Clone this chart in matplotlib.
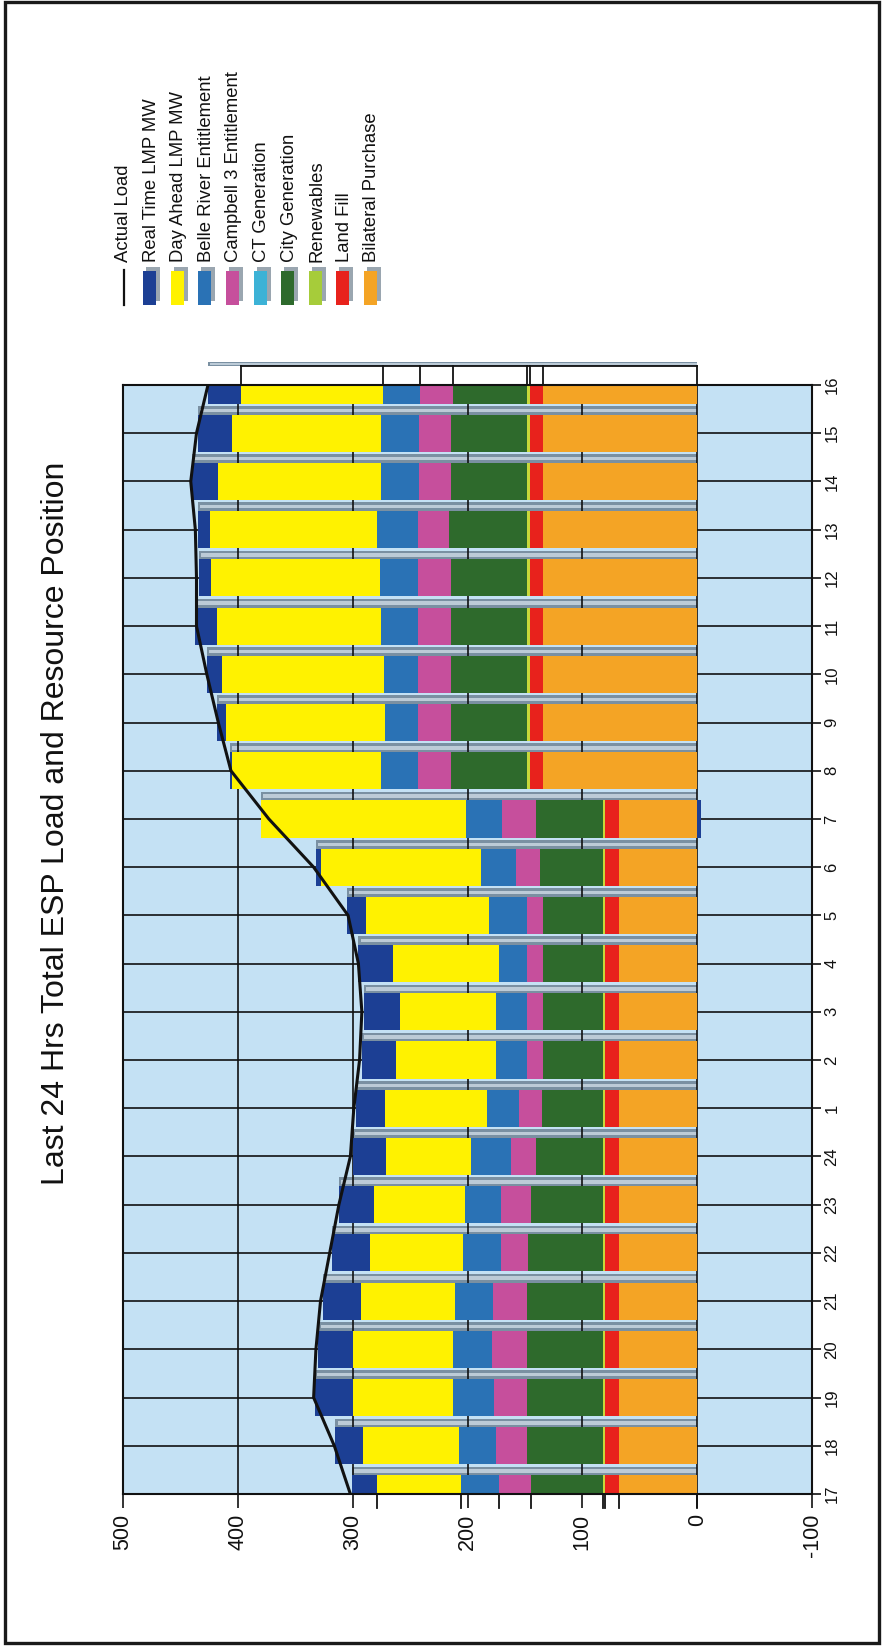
import matplotlib
matplotlib.use("Agg")
import matplotlib.pyplot as plt
from matplotlib import font_manager
from matplotlib.patches import Rectangle
from matplotlib.lines import Line2D
import numpy as np

# ---------------------------------------------------------------- data
hours = [17, 18, 19, 20, 21, 22, 23, 24, 1, 2, 3, 4, 5, 6, 7,
         8, 9, 10, 11, 12, 13, 14, 15, 16]

actual_load = [302, 316, 334, 332, 328, 320, 312, 302, 299, 294, 292, 295, 304, 334, 373,
               406, 417, 427, 436, 436, 437, 441, 436, 426]

bilateral_purchase = [68, 68, 68, 68, 68, 68, 68, 68, 68, 68, 68, 68, 68, 68, 68,
                      134, 134, 134, 134, 134, 134, 134, 134, 134]
land_fill = [12, 12, 12, 12, 12, 12, 12, 12, 12, 12, 12, 12, 12, 12, 12,
             12, 12, 12, 12, 12, 12, 12, 12, 12]
renewables = [2, 2, 2, 2, 2, 2, 2, 2, 2, 2, 2, 2, 2, 2, 2,
              2, 2, 2, 2, 2, 2, 2, 2, 2]
city_generation = [63, 66, 66, 66, 66, 65, 63, 58, 53, 52, 52, 52, 52, 55, 58,
                   66, 66, 66, 66, 66, 68, 66, 66, 65]
ct_generation = [0, 0, 0, 0, 0, 0, 0, 0, 0, 0, 0, 0, 0, 0, 0,
                 0, 0, 0, 0, 0, 0, 0, 0, 0]
campbell3 = [28, 27, 29, 31, 30, 24, 26, 22, 20, 14, 14, 14, 14, 21, 30,
             29, 29, 29, 29, 29, 27, 28, 28, 28]
belle_river = [33, 32, 36, 34, 33, 33, 31, 35, 28, 27, 27, 25, 33, 30, 31,
               32, 29, 30, 32, 33, 36, 33, 33, 33]
day_ahead = [73, 84, 87, 87, 82, 81, 79, 74, 89, 87, 84, 92, 107, 140, 179,
             130, 138, 141, 143, 147, 145, 142, 130, 123]
real_time = [22, 24, 33, 30, 33, 33, 31, 29, 25, 30, 31, 30, 17, 4, -3,
             2, 8, 13, 19, 11, 11, 23, 30, 29]

legend_labels = ["Actual Load", "Real Time LMP MW", "Day Ahead LMP MW",
                 "Belle River Entitlement", "Campbell 3 Entitlement", "CT Generation",
                 "City Generation", "Renewables", "Land Fill", "Bilateral Purchase"]
value_ticks = [500, 400, 300, 200, 100, 0, -100]
title = "Last 24 Hrs Total ESP Load and Resource Position"

# stacking order, from the base outward, with colours
stack = [
    (bilateral_purchase, "#f4a425"),
    (land_fill, "#e8221c"),
    (renewables, "#c8d83a"),
    (city_generation, "#2e6a2c"),
    (ct_generation, "#3cb2d6"),
    (campbell3, "#c64f9c"),
    (belle_river, "#2a72b5"),
    (day_ahead, "#fff200"),
    (real_time, "#1c3f94"),
]
legend_colors = ["#1c3f94", "#fff200", "#2a72b5", "#c64f9c", "#3cb2d6",
                 "#2e6a2c", "#a6cc3a", "#e8221c", "#f4a425"]

# ---------------------------------------------------------------- fonts
names = {f.name for f in font_manager.fontManager.ttflist}
if "Liberation Sans Narrow" in names:
    lab_font = ["Liberation Sans Narrow", "DejaVu Sans"]
    val_size, cat_size, leg_size = 18, 13, 16
else:
    lab_font = ["Liberation Sans", "DejaVu Sans"]
    val_size, cat_size, leg_size = 15.5, 12, 13.3
title_font = ["Liberation Sans", "DejaVu Sans"]

# ---------------------------------------------------------------- figure
W, H, DPI = 882, 1648, 100
fig = plt.figure(figsize=(W / DPI, H / DPI), dpi=DPI, facecolor="white")


def fx(x):
    return x / W


def fy(y):
    return 1 - y / H


ax_l, ax_r, ax_t, ax_b = 123, 812, 385, 1494
ax = fig.add_axes([fx(ax_l), fy(ax_b), (ax_r - ax_l) / W, (ax_b - ax_t) / H])
ax.set_facecolor("#c4e1f4")

n = len(hours)
ypos = np.arange(n)
bar_h = 0.77
half = bar_h / 2

# bars
left_pos = np.zeros(n)
left_neg = np.zeros(n)
for vals, color in stack:
    v = np.array(vals, dtype=float)
    pos = np.clip(v, 0, None)
    neg = np.clip(v, None, 0)
    if pos.any():
        ax.barh(ypos, pos, left=left_pos, height=bar_h, color=color,
                linewidth=0, zorder=3)
    if neg.any():
        ax.barh(ypos, neg, left=left_neg, height=bar_h, color=color,
                linewidth=0, zorder=3)
    left_pos += pos
    left_neg += neg
totals = left_pos.copy()

# shaded depth faces of the columns
for i in ypos:
    inside = i < n - 1
    depth = 0.18 if inside else 0.09
    ax.add_patch(Rectangle((0, i + half), totals[i], depth, facecolor="#7a90a2",
                           edgecolor="none", zorder=1.5, clip_on=inside))
    ax.add_patch(Rectangle((0, i + half + depth * 0.3), totals[i] - 2, depth * 0.4,
                           facecolor="#bccbd7", edgecolor="none", zorder=1.6,
                           clip_on=inside))

# grid
for v in [400, 300, 200, 100, 0]:
    ax.axvline(v, color="#111111", lw=1.2, zorder=2)
for i in range(1, n - 1):
    ax.axhline(i, color="#111111", lw=1.2, zorder=2)

# outline of the clipped first and last columns
def boundaries(i):
    cum = 0.0
    out = [0.0]
    for vals, _ in stack[:-1]:
        if vals[i] > 0:
            cum += vals[i]
            out.append(cum)
    return out

top_b = boundaries(n - 1)
for b in top_b:
    ax.plot([b, b], [n - 1, n - 1 + half], color="#111111", lw=1.3,
            clip_on=False, zorder=4)
ax.plot([0, top_b[-1]], [n - 1 + half, n - 1 + half], color="#111111", lw=1.3,
        clip_on=False, zorder=4)
for b in boundaries(0):
    ax.plot([b, b], [0, -0.29], color="#111111", lw=1.3, clip_on=False, zorder=4)

# actual load
ax.plot(actual_load, ypos, color="#111111", lw=2.2, zorder=5)

# axes
ax.set_xlim(500, -100)
ax.set_ylim(0, n - 1)
ax.set_xticks(value_ticks)
ax.set_xticklabels([str(v) for v in value_ticks], rotation=90,
                   fontsize=val_size, family=lab_font)
ax.tick_params(axis="x", direction="out", length=10, width=1.2, pad=4,
               colors="#111111")
ax.yaxis.tick_right()
ax.set_yticks(ypos)
ax.set_yticklabels([str(h) for h in hours], rotation=90, va="center",
                   fontsize=cat_size, family=lab_font)
ax.tick_params(axis="y", direction="out", length=6.5, width=1.2, pad=2.5,
               colors="#111111")
for s in ax.spines.values():
    s.set_color("#111111")
    s.set_linewidth(1.5)
    s.set_zorder(6)

# title
fig.text(fx(56), fy(823), title, rotation=90, ha="center", va="center",
         fontsize=23, family=title_font, color="#111111")

# legend
leg_x0, leg_dx = 123.5, 27.6
for k, label in enumerate(legend_labels):
    xc = leg_x0 + leg_dx * k
    if k == 0:
        fig.add_artist(Line2D([fx(xc), fx(xc)], [fy(270), fy(305)],
                              color="#111111", lw=1.6, transform=fig.transFigure))
    else:
        fig.add_artist(Rectangle((fx(xc - 5), fy(301)), 14 / W, 34 / H,
                                 facecolor="#9aa6b0", edgecolor="none",
                                 transform=fig.transFigure))
        fig.add_artist(Rectangle((fx(xc - 8), fy(305)), 13 / W, 34 / H,
                                 facecolor=legend_colors[k - 1], edgecolor="none",
                                 transform=fig.transFigure))
    fig.text(fx(xc), fy(262), label, rotation=90, ha="center", va="bottom",
             fontsize=leg_size, family=lab_font, color="#111111")

# page frame
fig.add_artist(Rectangle((fx(5), fy(1643)), (879 - 5) / W, (1643 - 2) / H,
                         fill=False, edgecolor="#1a1a1a", lw=2.4,
                         transform=fig.transFigure))

fig.savefig("out.png", dpi=DPI, facecolor="white")
